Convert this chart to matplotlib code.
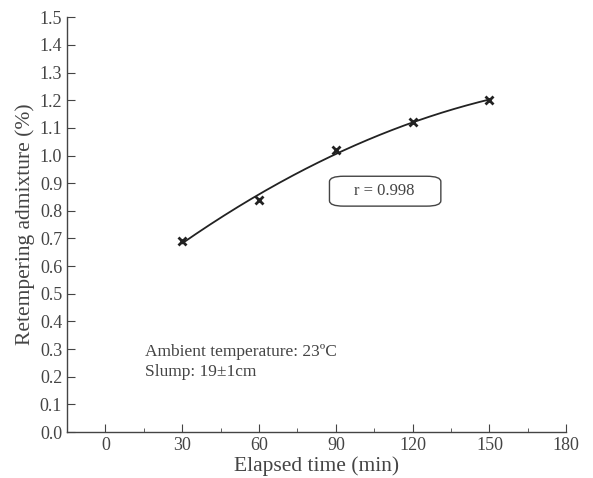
import numpy as np
import matplotlib
matplotlib.use("Agg")
import matplotlib.pyplot as plt
from matplotlib.ticker import MultipleLocator
from matplotlib.patches import FancyBboxPatch

time_min = [30, 60, 90, 120, 150]
admixture = [0.69, 0.84, 1.02, 1.12, 1.20]
x_ticks = [0, 30, 60, 90, 120, 150, 180]
y_ticks = [round(0.1 * i, 1) for i in range(16)]

plt.rcParams['font.family'] = ['Liberation Serif', 'DejaVu Serif']
grey = '#444444'

fig = plt.figure(figsize=(5.93, 4.78), dpi=100)
ax = fig.add_axes([0.113, 0.096, 0.842, 0.868])

coef = np.polyfit(time_min, admixture, 2)
xf = np.linspace(min(time_min), max(time_min), 200)
ax.plot(xf, np.polyval(coef, xf), color='#222222', lw=1.3)
ax.plot(time_min, admixture, linestyle='none', marker='x', ms=6, mew=2, color='#222222')

ax.set_xlim(-15, 180)
ax.set_ylim(0, 1.5)
ax.set_xticks(x_ticks)
ax.set_yticks(y_ticks)
ax.set_yticklabels([f"{v:.1f}" for v in y_ticks])
ax.xaxis.set_minor_locator(MultipleLocator(15))
ax.tick_params(axis='both', which='major', direction='in', length=6, color=grey, labelsize=13, labelcolor=grey)
ax.tick_params(axis='x', which='minor', direction='in', length=3, color=grey)
for s in ['top', 'right']:
    ax.spines[s].set_visible(False)
for s in ['left', 'bottom']:
    ax.spines[s].set_color(grey)
    ax.spines[s].set_linewidth(1.0)

ax.set_xlabel('Elapsed time (min)', fontsize=15.5, color=grey, labelpad=2)
ax.set_ylabel('Retempering admixture (%)', fontsize=15.5, color=grey, labelpad=3)

box = FancyBboxPatch((87.5, 0.817), 43.5, 0.108,
                     boxstyle='round,pad=0,rounding_size=5.5', mutation_aspect=0.0035,
                     fc='white', ec=grey, lw=1.0)
ax.add_patch(box)
ax.text(109, 0.871, 'r = 0.998', ha='center', va='center', fontsize=12, color=grey)
ax.text(15.5, 0.29, 'Ambient temperature: 23ºC', fontsize=12.5, color=grey, va='center')
ax.text(15.5, 0.217, 'Slump: 19±1cm', fontsize=12.5, color=grey, va='center')

fig.savefig('out.png', dpi=100)
